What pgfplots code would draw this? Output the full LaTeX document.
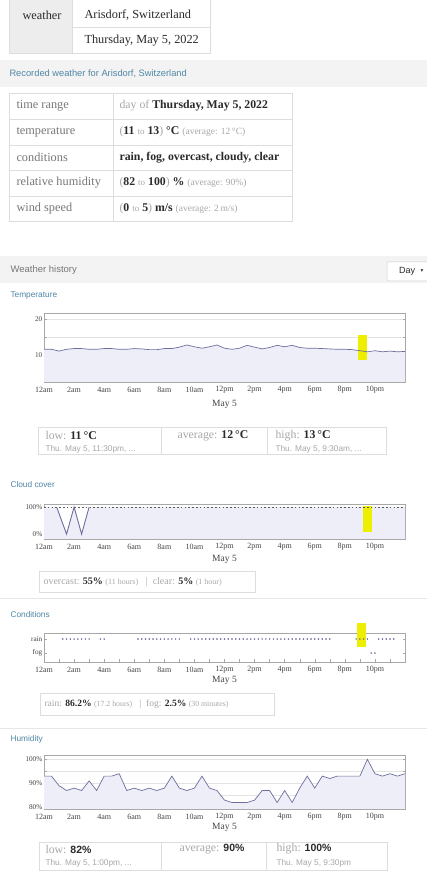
\documentclass[border=0pt]{standalone}
\usepackage{fontspec}
\setmainfont{Liberation Serif}
\setsansfont{Liberation Sans}
\newfontfamily\dejavu{DejaVu Sans}
\usepackage{pgfplots}
\pgfplotsset{compat=1.18}
\definecolor{linec}{HTML}{6E6E9E}
\definecolor{fillc}{HTML}{EEEEF8}
\definecolor{framec}{HTML}{A8A8A8}
\definecolor{bordc}{HTML}{DDDDDD}
\definecolor{bandc}{HTML}{F3F3F3}
\definecolor{cellc}{HTML}{EDEDED}
\definecolor{lightt}{HTML}{A8A8A8}
\definecolor{darkt}{HTML}{2A2A2A}
\definecolor{midt}{HTML}{777777}
\definecolor{tickc}{HTML}{444444}
\definecolor{secc}{HTML}{4F86A6}
\definecolor{hl}{HTML}{EEEE00}
\definecolor{sepc}{HTML}{E6E6E6}
\pgfplotsset{wa/.style={
  scale only axis, width=361pt, anchor=south west,
  xmin=0, xmax=24,
  xtick={0,...,24},
  xticklabels={12am,,2am,,4am,,6am,,8am,,10am,,12pm,,2pm,,4pm,,6pm,,8pm,,10pm,,},
  axis line style={framec, line width=0.5pt},
  tick style={framec, line width=0.4pt},
  major tick length=2.5pt,
  tick align=inside,
  xtick pos=bottom,
  tick label style={font=\fontsize{7.2}{8}\selectfont, text=tickc},
  yticklabel style={inner sep=1.5pt},
  xticklabel style={font=\fontsize{8}{9}\selectfont, anchor=center, yshift=-8pt},
  xlabel={May 5},
  xlabel style={font=\fontsize{9.5}{10}\selectfont, text=tickc, at={(axis description cs:0.5,0)}, anchor=center},
  grid style={gray!22, line width=0.4pt},
}}
\begin{document}
\begin{tikzpicture}[x=1pt,y=1pt]
\fill[white] (0,0) rectangle (427,877);
% ---------- top input table
\fill[cellc] (9,{877+5}) rectangle (72,{877-53});
\draw[bordc, line width=0.6pt] (9,{877+5}) -- (9,{877-53}) -- (210,{877-53}) -- (210,{877+5});
\draw[bordc, line width=0.6pt] (72,{877+5}) -- (72,{877-53});
\draw[bordc, line width=0.6pt] (72,{877-27}) -- (210,{877-27});
\node[anchor=west, font=\fontsize{12.3}{13}\selectfont, text=darkt] at (19,{877-15}) {weather};
\node[anchor=west, font=\fontsize{12.3}{13}\selectfont, text=darkt] at (81,{877-15}) {Arisdorf, Switzerland};
\node[anchor=west, font=\fontsize{12.3}{13}\selectfont, text=darkt] at (81,{877-41}) {Thursday, May 5, 2022};
% ---------- recorded band
\fill[bandc] (0,{877-60}) rectangle (427,{877-87});
\node[anchor=west, font=\sffamily\fontsize{9.3}{10}\selectfont, text=secc] at (6,{877-73.5}) {Recorded weather for Arisdorf, Switzerland};
% ---------- result table
\draw[bordc, line width=0.6pt] (9,{877-93}) rectangle (292,{877-221});
\draw[bordc, line width=0.6pt] (113,{877-93}) -- (113,{877-221});
\foreach \yy in {119,145,170,196} {\draw[bordc, line width=0.6pt] (9,{877-\yy}) -- (292,{877-\yy});}
\begin{scope}[every node/.style={anchor=west, font=\fontsize{12.3}{13}\selectfont}]
\node[text=midt] at (13,{877-106}) {time range};
\node[text=midt] at (13,{877-132}) {temperature};
\node[text=midt] at (13,{877-157.5}) {conditions};
\node[text=midt] at (13,{877-183}) {relative humidity};
\node[text=midt] at (13,{877-208.5}) {wind speed};
\end{scope}
\begin{scope}[every node/.style={anchor=west, font=\fontsize{11.8}{13}\selectfont}]
\node[text=darkt] at (116,{877-106}) {\textcolor{lightt}{day of} \textbf{Thursday, May 5, 2022}};
\node[text=darkt] at (116,{877-132}) {\textcolor{lightt}{(}\textbf{11} \textcolor{lightt}{\small to} \textbf{13}\textcolor{lightt}{)} \textbf{°C} {\color{lightt}\fontsize{9.5}{10}\selectfont(average: 12\,°C)}};
\node[text=darkt] at (116,{877-157.5}) {\textbf{rain, fog, overcast, cloudy, clear}};
\node[text=darkt] at (116,{877-183}) {\textcolor{lightt}{(}\textbf{82} \textcolor{lightt}{\small to} \textbf{100}\textcolor{lightt}{)} \textbf{\%} {\color{lightt}\fontsize{9.5}{10}\selectfont(average: 90\%)}};
\node[text=darkt] at (116,{877-208.5}) {\textcolor{lightt}{(}\textbf{0} \textcolor{lightt}{\small to} \textbf{5}\textcolor{lightt}{)} \textbf{m/s} {\color{lightt}\fontsize{9.5}{10}\selectfont(average: 2\,m/s)}};
\end{scope}
% ---------- weather history band
\fill[bandc] (0,{877-256}) rectangle (427,{877-283});
\node[anchor=west, font=\sffamily\fontsize{9.5}{10}\selectfont, text=midt] at (7,{877-270}) {Weather history};
\draw[fill=white, draw=gray!40, line width=0.5pt, rounded corners=1pt] (387,{877-262}) rectangle (440,{877-281});
\node[font=\sffamily\fontsize{9}{10}\selectfont, text=darkt] at (407,{877-271.5}) {Day};
\node[font=\dejavu\fontsize{5.5}{6}\selectfont, text=darkt] at (422,{877-271.5}) {▾};
% ---------- section labels
\begin{scope}[every node/.style={anchor=west, font=\sffamily\fontsize{8.3}{9}\selectfont, text=secc}]
\node at (7,{877-296}) {Temperature};
\node at (7,{877-485}) {Cloud cover};
\node at (7,{877-615}) {Conditions};
\node at (7,{877-739}) {Humidity};
\end{scope}
\draw[sepc, line width=0.6pt] (0,{877-598}) -- (427,{877-598});
\draw[sepc, line width=0.6pt] (0,{877-728}) -- (427,{877-728});
% ---------- Temperature plot
\begin{axis}[wa, at={(44pt,495pt)}, height=69pt,
  ymin=2.5, ymax=21.7, ytick={5,10,15,20}, yticklabels={,10,,20}, ymajorgrids,
  xlabel style={yshift=-22pt}]
\addplot[fill=fillc, draw=none] coordinates {
(0,11.6)(0.5,11.6)(1,11.1)(1.5,11.6)(2,11.8)(2.5,11.8)(3,11.6)(3.5,11.6)(4,11.8)(4.5,11.8)
(5,11.6)(5.5,11.6)(6,11.8)(6.5,11.7)(7,11.5)(7.5,11.5)(8,11.8)(8.5,11.8)(9,12.2)(9.5,12.8)
(10,12.3)(10.5,11.9)(11,12.3)(11.5,12.8)(12,11.9)(12.5,11.6)(13,11.9)(13.5,12.7)(14,12.2)(14.5,11.7)
(15,12.1)(15.5,12.7)(16,12.3)(16.5,12.7)(17,12.1)(17.5,11.9)(18,11.9)(18.5,11.8)(19,11.7)(19.5,11.6)
(20,11.6)(20.5,11.5)(21,11.2)(21.5,10.9)(22,11.2)(22.5,10.9)(23,11.1)(23.5,10.9)(24,11.0)
(24,2.5)(0,2.5)} -- cycle;
\addplot[hl, fill=hl, draw=none] coordinates {(20.9,8.6)(21.5,8.6)(21.5,15.6)(20.9,15.6)} -- cycle;
\addplot[linec, line width=0.7pt] coordinates {
(0,11.6)(0.5,11.6)(1,11.1)(1.5,11.6)(2,11.8)(2.5,11.8)(3,11.6)(3.5,11.6)(4,11.8)(4.5,11.8)
(5,11.6)(5.5,11.6)(6,11.8)(6.5,11.7)(7,11.5)(7.5,11.5)(8,11.8)(8.5,11.8)(9,12.2)(9.5,12.8)
(10,12.3)(10.5,11.9)(11,12.3)(11.5,12.8)(12,11.9)(12.5,11.6)(13,11.9)(13.5,12.7)(14,12.2)(14.5,11.7)
(15,12.1)(15.5,12.7)(16,12.3)(16.5,12.7)(17,12.1)(17.5,11.9)(18,11.9)(18.5,11.8)(19,11.7)(19.5,11.6)
(20,11.6)(20.5,11.5)(21,11.2)(21.5,10.9)(22,11.2)(22.5,10.9)(23,11.1)(23.5,10.9)(24,11.0)};
\end{axis}
% temperature stats
\draw[bordc, line width=0.6pt] (38,{877-427}) rectangle (386,{877-454});
\draw[bordc, line width=0.6pt] (161,{877-427}) -- (161,{877-454});
\draw[bordc, line width=0.6pt] (267,{877-427}) -- (267,{877-454});
\node[anchor=west, font=\fontsize{11.8}{12}\selectfont, text=lightt] at (42,{877-435.5}) {low: \textcolor{darkt}{\textbf{11\,°C}}};
\node[anchor=west, font=\sffamily\fontsize{8.3}{9}\selectfont, text=lightt] at (42,{877-449}) {Thu. May 5, 11:30pm, ...};
\node[anchor=west, font=\fontsize{11.8}{12}\selectfont, text=lightt] at (174,{877-435.5}) {average: \textcolor{darkt}{\textbf{12\,°C}}};
\node[anchor=west, font=\fontsize{11.8}{12}\selectfont, text=lightt] at (272,{877-435.5}) {high: \textcolor{darkt}{\textbf{13\,°C}}};
\node[anchor=west, font=\sffamily\fontsize{8.3}{9}\selectfont, text=lightt] at (272,{877-449}) {Thu. May 5, 9:30am, ...};
% ---------- Cloud cover plot
\begin{axis}[wa, at={(44pt,338pt)}, height=35pt,
  ymin=-18, ymax=111, ytick={0,100}, yticklabels={0\%,100\%},
  xlabel style={yshift=-20pt}]
\addplot[fill=fillc, draw=none] coordinates {(0,100)(0.84,100)(1.5,0)(2,100)(2.5,0)(3,100)(24,100)(24,-18)(0,-18)} -- cycle;
\addplot[hl, fill=hl, draw=none] coordinates {(21.2,8.5)(21.8,8.5)(21.8,103.7)(21.2,103.7)} -- cycle;
\addplot[black!65, line width=0.6pt, dash pattern=on 1.6pt off 2.2pt] coordinates {(0,100)(24,100)};
\addplot[linec, line width=0.9pt] coordinates {(0.84,100)(1.5,0)(2,100)(2.5,0)(3,100)};
\end{axis}
\draw[bordc, line width=0.6pt] (39,{877-571}) rectangle (255,{877-592});
\node[anchor=west, font=\fontsize{10}{11}\selectfont, text=lightt] at (40,{877-582}) {overcast: \textcolor{darkt}{\textbf{55\%}} {\fontsize{8}{9}\selectfont(11 hours)} \enspace|\enspace clear: \textcolor{darkt}{\textbf{5\%}} {\fontsize{8}{9}\selectfont(1 hour)}};
% ---------- Conditions plot
\begin{axis}[wa, at={(44pt,215pt)}, height=29pt, clip=false,
  ymin=-0.64, ymax=1.43, ytick={0,1}, yticklabels={fog,rain},
  xlabel style={yshift=-18pt}]
\addplot[hl, fill=hl, draw=none] coordinates {(20.8,0.45)(21.4,0.45)(21.4,2.16)(20.8,2.16)} -- cycle;
\addplot[only marks, mark=*, mark size=0.55pt, linec] coordinates {
(1.25,1)(1.5,1)(1.75,1)(2,1)(2.25,1)(2.5,1)(2.75,1)(3,1)
(3.75,1)(4,1)
(6.25,1)(6.5,1)(6.75,1)(7,1)(7.25,1)(7.5,1)(7.75,1)(8,1)(8.25,1)(8.5,1)(8.75,1)(9,1)
(9.75,1)(10,1)(10.25,1)(10.5,1)(10.75,1)(11,1)(11.25,1)(11.5,1)(11.75,1)(12,1)(12.25,1)(12.5,1)(12.75,1)
(13,1)(13.25,1)(13.5,1)(13.75,1)(14,1)(14.25,1)(14.5,1)(14.75,1)(15,1)(15.25,1)(15.5,1)(15.75,1)
(16,1)(16.25,1)(16.5,1)(16.75,1)(17,1)(17.25,1)(17.5,1)(17.75,1)(18,1)(18.25,1)(18.5,1)(18.75,1)(19,1)
(20.75,1)(21,1)(21.25,1)(21.5,1)
(22.25,1)(22.5,1)(22.75,1)(23,1)(23.25,1)};
\addplot[only marks, mark=*, mark size=0.55pt, linec] coordinates {(21.75,0)(22,0)};
\end{axis}
\draw[bordc, line width=0.6pt] (40,{877-693}) rectangle (274,{877-715});
\node[anchor=west, font=\fontsize{9.6}{10}\selectfont, text=lightt] at (41,{877-704}) {rain: \textcolor{darkt}{\textbf{86.2\%}} {\fontsize{7.8}{8}\selectfont(17.2 hours)} \enspace|\enspace fog: \textcolor{darkt}{\textbf{2.5\%}} {\fontsize{7.8}{8}\selectfont(30 minutes)}};
% ---------- Humidity plot
\begin{axis}[wa, at={(44pt,68pt)}, height=54pt,
  ymin=79.3, ymax=101.8, ytick={80,85,90,95,100}, yticklabels={80\%,,90\%,,100\%}, ymajorgrids,
  xlabel style={yshift=-18pt}]
\addplot[fill=fillc, draw=none] coordinates {
(0,93)(0.5,93)(1,89)(1.5,87)(2,88)(2.5,87)(3,91)(3.5,87)(4,93)(4.5,93)
(5,94)(5.5,87)(6,88)(6.5,87)(7,88)(7.5,87)(8,88)(8.5,93)(9,88)(9.5,87)
(10,88)(10.5,93)(11,88)(11.5,87)(12,83)(12.5,82)(13,82)(13.5,82)(14,83)(14.5,87)
(15,87)(15.5,82)(16,87)(16.5,82)(17,88)(17.5,93)(18,88)(18.5,93)(19,92)(19.5,93)
(20,93)(20.5,93)(21,93)(21.5,100)(22,94)(22.5,93)(23,94)(23.5,93)(24,94)
(24,79.3)(0,79.3)} -- cycle;
\addplot[linec, line width=0.7pt] coordinates {
(0,93)(0.5,93)(1,89)(1.5,87)(2,88)(2.5,87)(3,91)(3.5,87)(4,93)(4.5,93)
(5,94)(5.5,87)(6,88)(6.5,87)(7,88)(7.5,87)(8,88)(8.5,93)(9,88)(9.5,87)
(10,88)(10.5,93)(11,88)(11.5,87)(12,83)(12.5,82)(13,82)(13.5,82)(14,83)(14.5,87)
(15,87)(15.5,82)(16,87)(16.5,82)(17,88)(17.5,93)(18,88)(18.5,93)(19,92)(19.5,93)
(20,93)(20.5,93)(21,93)(21.5,100)(22,94)(22.5,93)(23,94)(23.5,93)(24,94)};
\end{axis}
\draw[bordc, line width=0.6pt] (39,{877-842}) rectangle (387,{877-870});
\draw[bordc, line width=0.6pt] (161,{877-842}) -- (161,{877-870});
\draw[bordc, line width=0.6pt] (266,{877-842}) -- (266,{877-870});
\node[anchor=west, font=\fontsize{11.8}{12}\selectfont, text=lightt] at (42,{877-849}) {low: \textcolor{darkt}{\sffamily\bfseries\fontsize{10.5}{11}\selectfont 82\%}};
\node[anchor=west, font=\sffamily\fontsize{8.3}{9}\selectfont, text=lightt] at (42,{877-863}) {Thu. May 5, 1:00pm, ...};
\node[anchor=west, font=\fontsize{11.8}{12}\selectfont, text=lightt] at (176,{877-849}) {average: \textcolor{darkt}{\sffamily\bfseries\fontsize{10.5}{11}\selectfont 90\%}};
\node[anchor=west, font=\fontsize{11.8}{12}\selectfont, text=lightt] at (273,{877-849}) {high: \textcolor{darkt}{\sffamily\bfseries\fontsize{10.5}{11}\selectfont 100\%}};
\node[anchor=west, font=\sffamily\fontsize{8.3}{9}\selectfont, text=lightt] at (273,{877-863}) {Thu. May 5, 9:30pm};
\pgfresetboundingbox
\path[use as bounding box] (0,0) rectangle (427,877);
\end{tikzpicture}
\end{document}
